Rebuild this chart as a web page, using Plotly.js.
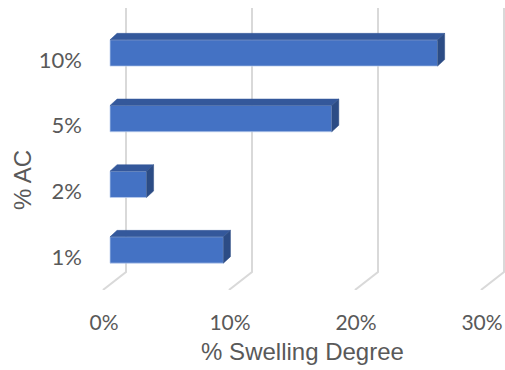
<!DOCTYPE html>
<html>
<head>
<meta charset="utf-8">
<script src="https://cdn.plot.ly/plotly-3.0.1.min.js"></script>
<style>html,body{margin:0;padding:0;background:#fff;}#chart{width:505px;height:370px;}</style>
</head>
<body>
<div id="chart"></div>
<script>
// Data
var categories = ['1%', '2%', '5%', '10%'];
var swelling = [0.090, 0.029, 0.176, 0.260];
var xTickValues = [0, 0.1, 0.2, 0.3];

// 3D styling (data-unit offsets)
var barHalf = 0.2;
var depthX = 0.0056, depthY = 0.099;
var wallBackX = 0.0127, floorFrontX = -0.0056;
var yTop = 3.685, wallBottomY = -0.335, floorFrontY = -0.609;

var pos = categories.map(function (c, i) { return i; });

var traces = [];
traces.push({
  type: 'bar', orientation: 'h', x: swelling, y: pos, width: barHalf * 2,
  marker: { color: '#4472C4', line: { color: 'rgba(190,208,238,0.9)', width: 0.8 } },
  hoverinfo: 'skip', showlegend: false
});
swelling.forEach(function (v, i) {
  var y = pos[i];
  traces.push({
    type: 'scatter', mode: 'lines', fill: 'toself', fillcolor: '#34589B',
    line: { color: '#34589B', width: 0.5 },
    x: [0, v, v + depthX, depthX, 0],
    y: [y + barHalf, y + barHalf, y + barHalf + depthY, y + barHalf + depthY, y + barHalf],
    hoverinfo: 'skip', showlegend: false
  });
  traces.push({
    type: 'scatter', mode: 'lines', fill: 'toself', fillcolor: '#2C4C85',
    line: { color: '#2C4C85', width: 0.5 },
    x: [v, v, v + depthX, v + depthX, v],
    y: [y - barHalf, y + barHalf, y + barHalf + depthY, y - barHalf + depthY, y - barHalf],
    hoverinfo: 'skip', showlegend: false
  });
});

var shapes = [];
xTickValues.forEach(function (t) {
  shapes.push({
    type: 'path', layer: 'below', xref: 'x', yref: 'y',
    path: 'M' + (t + wallBackX) + ',' + yTop + ' L' + (t + wallBackX) + ',' + wallBottomY +
          ' L' + (t + floorFrontX) + ',' + floorFrontY,
    line: { color: '#D9D9D9', width: 2 }
  });
});

var layout = {
  width: 505, height: 370,
  margin: { l: 100, r: 0, t: 8, b: 80 },
  paper_bgcolor: '#ffffff', plot_bgcolor: '#ffffff',
  showlegend: false,
  xaxis: {
    range: [-0.00794, 0.3135], tickvals: xTickValues, tickformat: '.0%',
    showgrid: false, zeroline: false, showline: false, ticks: '',
    ticklabelshift: -6, ticklabelstandoff: 18,
    tickfont: { family: 'Lato', size: 21, color: '#595959' },
    title: { text: '% Swelling Degree', standoff: 10,
             font: { family: 'Liberation Sans', size: 24, color: '#595959' } }
  },
  yaxis: {
    range: [floorFrontY, yTop], tickvals: pos, ticktext: categories,
    showgrid: false, zeroline: false, showline: false, ticks: '',
    ticklabelshift: 7, ticklabelstandoff: 17,
    tickfont: { family: 'Lato', size: 22, color: '#595959' }
  },
  annotations: [{
    text: '% AC', xref: 'paper', yref: 'paper', x: -0.1926, y: 0.39,
    xanchor: 'center', yanchor: 'middle', textangle: -90, showarrow: false,
    font: { family: 'Liberation Sans', size: 24, color: '#595959' }
  }],
  shapes: shapes
};

Plotly.newPlot('chart', traces, layout, { displayModeBar: false, staticPlot: true });
</script>
</body>
</html>
